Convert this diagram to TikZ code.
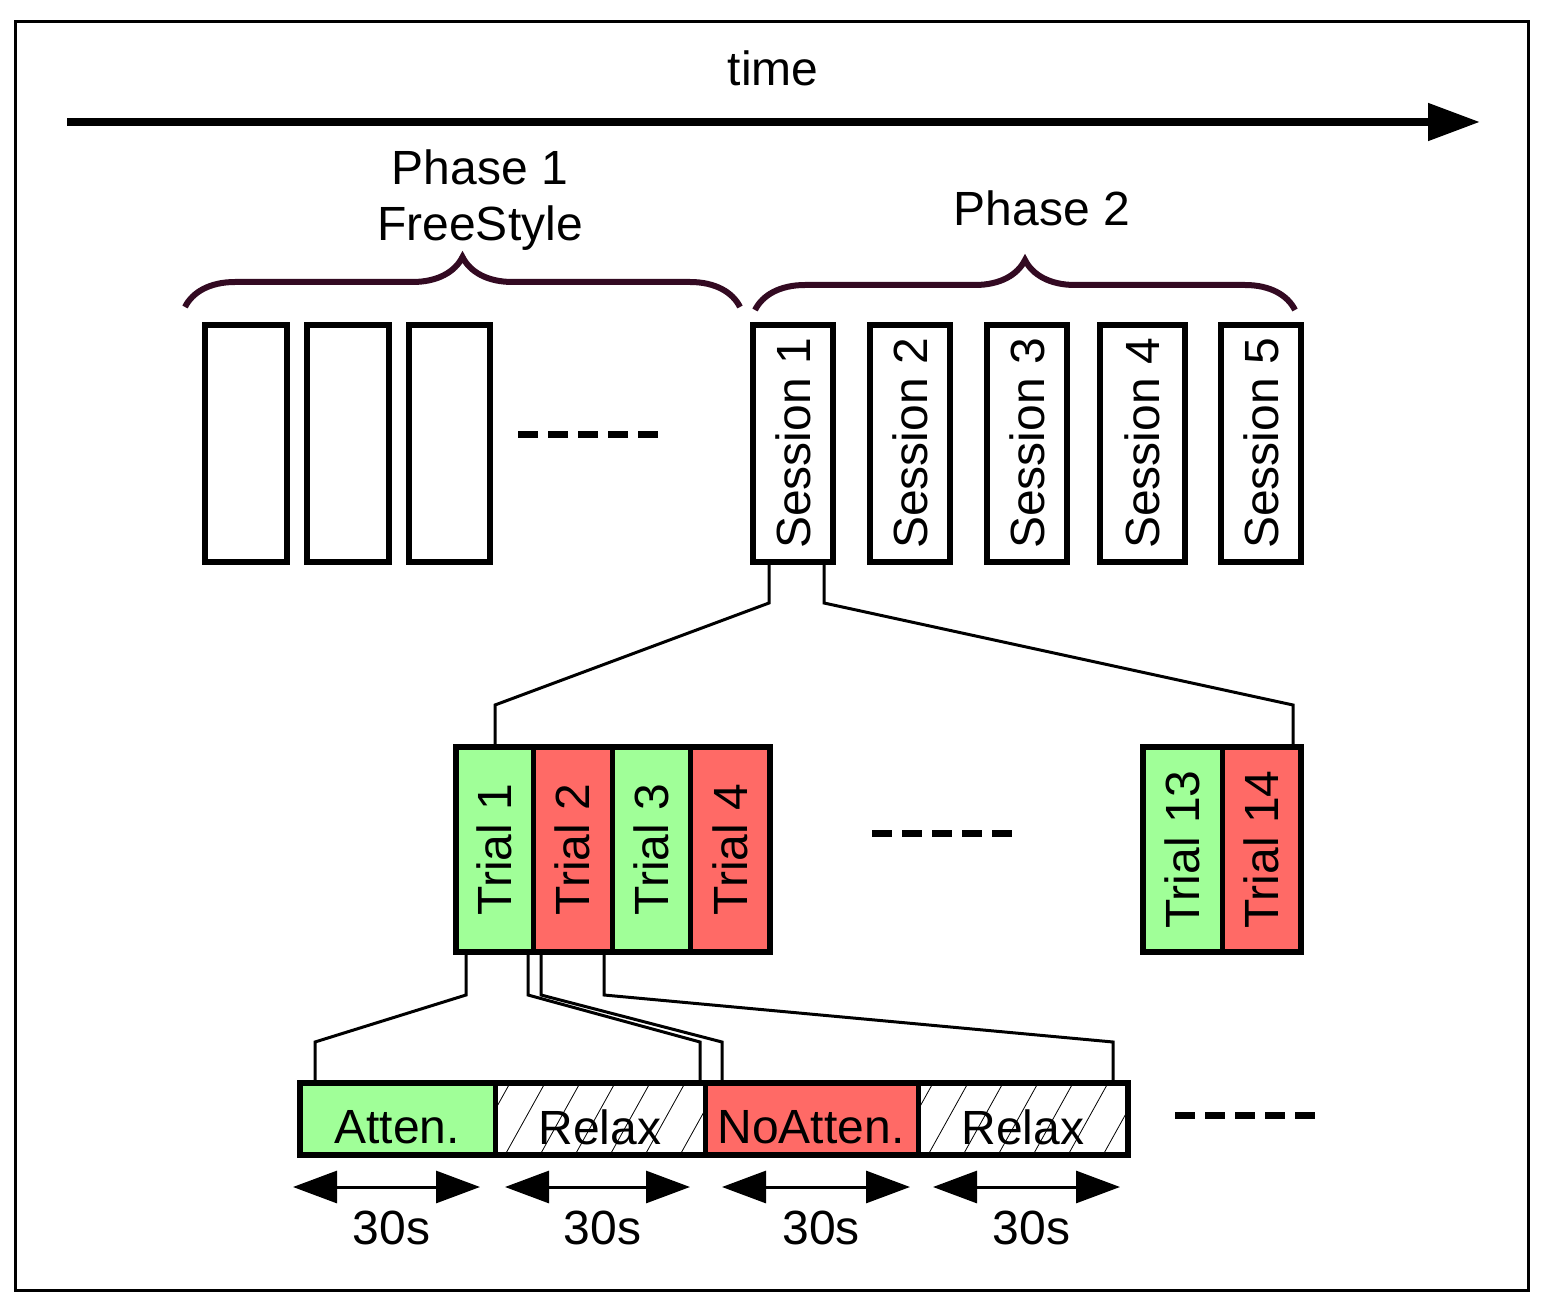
\documentclass[tikz,border=0pt]{standalone}
\usepackage{fontspec}
\setmainfont{Liberation Sans}
\usetikzlibrary{arrows.meta,decorations.pathreplacing}
\definecolor{gr}{HTML}{A0FF98}
\definecolor{rd}{HTML}{FF6A66}
\definecolor{br}{HTML}{330A22}
\begin{document}
\begin{tikzpicture}[x=0.5pt,y=-0.5pt,
  box/.style={draw,line width=3pt},
  cell/.style={draw,line width=2.5pt},
  con/.style={line width=1.5pt},
  big/.style={font=\fontsize{24}{28}\selectfont},
  dotsline/.style={line width=3.5pt,dash pattern=on 10pt off 5pt},
  dur/.style={line width=1.5pt,{Triangle[length=22pt,width=16pt]}-{Triangle[length=22pt,width=16pt]}},
  hl/.style={line width=0.4pt}]
\useasboundingbox (0,0) rectangle (1547,1315);
\draw[line width=1.5pt] (15,22) rectangle (1528,1290);
\draw[line width=4pt,-{Triangle[length=26pt,width=18pt]}] (67,122) -- (1480,122);
\node[big] (time) at (773,68) {time};
\node[big,align=center] (p1) at (480,200) {Phase 1\\FreeStyle};
\node[big] (p2) at (1042,208) {Phase 2};
\draw[br,line width=3pt,decorate,decoration={brace,amplitude=25pt}] (185,307) -- (740,307);
\draw[br,line width=3pt,decorate,decoration={brace,amplitude=25pt}] (755,310) -- (1295,310);
\foreach \a/\b in {205/287,307/389,409/490} \draw[box] (\a,325) rectangle (\b,562);
\draw[dotsline] (518,435) -- (665,435);
\foreach \a/\b/\n in {753/833/1,870/950/2,987/1067/3,1100/1185/4,1221/1301/5}
  \node[box,minimum width=237*0.5pt,minimum height=(\b-\a)*0.5pt,rotate=90,big] (s\n) at ({(\a+\b)/2},443.5) {Session \n};
\draw[con] (769,562) -- (769,603) -- (495,705) -- (495,747);
\draw[con] (824,562) -- (824,603) -- (1293,705) -- (1293,747);
% trials
\foreach \a/\b/\c/\n in {456/533/gr/1,533/612/rd/2,612/690/gr/3,690/770/rd/4,1143/1222/gr/13,1222/1301/rd/14}
  \node[cell,fill=\c,minimum width=205*0.5pt,minimum height=(\b-\a)*0.5pt,rotate=90,big,inner sep=0pt] (t\n) at ({(\a+\b)/2},849.5) {Trial \n};
\draw[box] (456,747) rectangle (770,952);
\draw[box] (1143,747) rectangle (1301,952);
\draw[dotsline] (872,833) -- (1015,833);
\draw[con] (466,952) -- (466,995) -- (315,1042) -- (315,1083);
\draw[con] (528,952) -- (528,995) -- (700,1042) -- (700,1083);
\draw[con] (541,952) -- (541,995) -- (722,1042) -- (722,1083);
\draw[con] (604,952) -- (604,995) -- (1113,1042) -- (1113,1083);
% blocks
\fill[gr] (300,1083) rectangle (495,1155);
\fill[rd] (705,1083) rectangle (918,1155);
\begin{scope}
\clip (495,1083) rectangle (705,1155);
\foreach \x in {470,505,...,720} \draw[hl] (\x,1155) -- (\x+40,1083);
\end{scope}
\begin{scope}
\clip (918,1083) rectangle (1128,1155);
\foreach \x in {893,928,...,1140} \draw[hl] (\x,1155) -- (\x+40,1083);
\end{scope}
\draw[cell] (495,1083) -- (495,1155) (705,1083) -- (705,1155) (918,1083) -- (918,1155);
\draw[box] (300,1083) rectangle (1128,1155);
\node[big] (b1) at (397,1127) {Atten.};
\node[big] (b2) at (600,1127) {Relax};
\node[big] (b3) at (811,1127) {NoAtten.};
\node[big] (b4) at (1023,1127) {Relax};
\draw[dotsline] (1175,1115) -- (1318,1115);
\foreach \a/\b/\n in {293/480/1,505/690/2,722/910/3,933/1120/4}{
  \coordinate (l\n) at (\a,1187); \coordinate (r\n) at (\b,1187);
  \draw[dur] (l\n) -- (r\n);
  \node[big] (d\n) at ({(\a+\b)/2+5},1228) {30s};}
\end{tikzpicture}
\end{document}
